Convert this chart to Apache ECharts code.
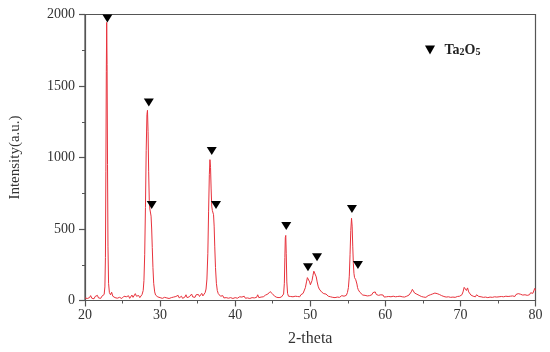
<!DOCTYPE html>
<html><head><meta charset="utf-8">
<script src="https://cdn.jsdelivr.net/npm/echarts@6/dist/echarts.min.js"></script>
<style>html,body{margin:0;padding:0;background:#fff}#c{width:550px;height:352px}</style>
</head><body><div id="c"></div>
<script>
const xTicks = [20, 30, 40, 50, 60, 70, 80];
const yTicks = [0, 500, 1000, 1500, 2000];
const xName = '2-theta';
const yName = 'Intensity(a.u.)';
const phaseName = 'Ta2O5';
// [2-theta, intensity]
const pattern = [
[20.0,18],[20.15,30],[20.3,14],[20.45,26],[20.6,20],[20.75,34],[20.9,16],[21.05,24],[21.2,12],[21.35,28],[21.5,22],[21.65,36],[21.8,18],[21.95,26],[22.1,15],[22.25,30],[22.4,24],[22.55,42],[22.65,95],[22.72,300],[22.78,900],[22.84,1600],[22.89,1945],[22.94,1650],[23.0,950],[23.06,380],[23.14,120],[23.25,55],[23.4,40],[23.55,58],[23.7,30],[23.85,36],[24.0,20],[24.15,32],[24.3,16],[24.45,28],[24.6,22],[24.75,34],[24.9,14],[25.05,25],[25.2,30],[25.35,18],[25.5,26],[25.65,20],[25.8,33],[25.95,15],[26.1,24],[26.25,38],[26.4,22],[26.55,28],[26.7,48],[26.85,30],[27.0,24],[27.15,35],[27.3,20],[27.45,30],[27.6,42],[27.75,70],[27.85,140],[27.95,320],[28.05,650],[28.15,1050],[28.25,1300],[28.32,1330],[28.4,1180],[28.48,900],[28.56,700],[28.64,640],[28.72,630],[28.8,590],[28.88,500],[28.96,370],[29.05,230],[29.15,120],[29.28,60],[29.4,38],[29.55,48],[29.7,25],[29.85,34],[30.0,20],[30.15,30],[30.3,15],[30.45,26],[30.6,22],[30.75,35],[30.9,18],[31.05,28],[31.2,14],[31.35,26],[31.5,20],[31.65,32],[31.8,24],[31.95,16],[32.1,28],[32.25,22],[32.4,36],[32.55,18],[32.7,26],[32.85,30],[33.0,15],[33.15,28],[33.3,24],[33.45,40],[33.6,20],[33.75,30],[33.9,26],[34.05,38],[34.2,45],[34.35,25],[34.5,32],[34.65,22],[34.8,40],[34.95,30],[35.1,42],[35.25,28],[35.4,36],[35.55,50],[35.7,32],[35.85,44],[36.0,55],[36.12,80],[36.24,150],[36.36,330],[36.46,620],[36.56,880],[36.64,985],[36.72,930],[36.8,780],[36.88,660],[36.96,630],[37.04,620],[37.12,600],[37.2,520],[37.28,380],[37.38,230],[37.5,120],[37.62,70],[37.75,48],[37.9,36],[38.05,30],[38.2,22],[38.35,34],[38.5,18],[38.65,26],[38.8,20],[38.95,30],[39.1,16],[39.25,24],[39.4,20],[39.55,28],[39.7,14],[39.85,24],[40.0,20],[40.15,30],[40.3,16],[40.45,22],[40.6,26],[40.75,15],[40.9,24],[41.05,20],[41.2,30],[41.35,16],[41.5,22],[41.65,18],[41.8,28],[41.95,14],[42.1,24],[42.25,20],[42.4,32],[42.55,18],[42.7,26],[42.85,22],[43.0,40],[43.15,20],[43.3,28],[43.45,24],[43.6,34],[43.75,26],[43.9,30],[44.05,38],[44.2,32],[44.35,45],[44.5,55],[44.65,62],[44.8,58],[44.95,48],[45.1,40],[45.25,30],[45.4,34],[45.55,22],[45.7,30],[45.85,20],[46.0,28],[46.15,24],[46.3,32],[46.45,45],[46.55,120],[46.62,300],[46.68,440],[46.74,455],[46.8,330],[46.88,130],[46.98,50],[47.1,30],[47.25,22],[47.4,28],[47.55,18],[47.7,26],[47.85,22],[48.0,30],[48.15,20],[48.3,28],[48.45,34],[48.6,26],[48.75,40],[48.9,36],[49.05,50],[49.2,62],[49.35,90],[49.5,130],[49.62,160],[49.72,172],[49.82,160],[49.92,130],[50.02,110],[50.12,112],[50.24,140],[50.36,175],[50.48,205],[50.58,213],[50.68,200],[50.8,165],[50.92,130],[51.05,100],[51.2,80],[51.35,70],[51.5,60],[51.65,52],[51.8,48],[51.95,40],[52.1,45],[52.25,34],[52.4,30],[52.55,38],[52.7,26],[52.85,30],[53.0,22],[53.15,28],[53.3,20],[53.45,26],[53.6,24],[53.75,30],[53.9,22],[54.05,28],[54.2,34],[54.35,26],[54.5,30],[54.65,40],[54.8,36],[54.95,55],[55.08,90],[55.2,170],[55.3,320],[55.4,490],[55.5,575],[55.58,520],[55.66,380],[55.74,260],[55.82,190],[55.9,160],[55.98,150],[56.06,145],[56.14,138],[56.22,115],[56.3,90],[56.4,75],[56.5,66],[56.6,58],[56.72,45],[56.85,50],[57.0,38],[57.15,30],[57.3,36],[57.45,26],[57.6,32],[57.75,22],[57.9,34],[58.05,28],[58.2,40],[58.35,55],[58.5,48],[58.65,60],[58.8,42],[58.95,50],[59.1,36],[59.25,48],[59.4,40],[59.55,30],[59.7,38],[59.85,24],[60.0,32],[60.15,26],[60.3,20],[60.45,28],[60.6,18],[60.75,26],[60.9,20],[61.05,30],[61.2,22],[61.35,26],[61.5,18],[61.65,28],[61.8,22],[61.95,30],[62.1,20],[62.25,26],[62.4,32],[62.55,24],[62.7,36],[62.85,30],[63.0,26],[63.15,38],[63.3,44],[63.45,60],[63.6,78],[63.75,70],[63.9,52],[64.05,60],[64.2,44],[64.35,50],[64.5,36],[64.65,40],[64.8,28],[64.95,34],[65.1,24],[65.25,30],[65.4,22],[65.55,28],[65.7,34],[65.85,30],[66.0,40],[66.15,36],[66.3,46],[66.45,40],[66.6,52],[66.75,44],[66.9,48],[67.05,36],[67.2,42],[67.35,30],[67.5,34],[67.65,24],[67.8,28],[67.95,20],[68.1,24],[68.25,18],[68.4,26],[68.55,16],[68.7,22],[68.85,18],[69.0,24],[69.15,16],[69.3,22],[69.45,20],[69.6,28],[69.75,22],[69.9,30],[70.05,26],[70.2,40],[70.35,60],[70.5,92],[70.65,80],[70.8,70],[70.95,88],[71.1,60],[71.25,52],[71.4,38],[71.55,42],[71.7,30],[71.85,36],[72.0,26],[72.15,40],[72.3,32],[72.45,28],[72.6,36],[72.75,26],[72.9,30],[73.05,22],[73.2,28],[73.35,24],[73.5,32],[73.65,20],[73.8,28],[73.95,24],[74.1,30],[74.25,22],[74.4,34],[74.55,26],[74.7,30],[74.85,24],[75.0,32],[75.15,26],[75.3,34],[75.45,28],[75.6,36],[75.75,26],[75.9,38],[76.05,30],[76.2,34],[76.35,28],[76.5,36],[76.65,30],[76.8,40],[76.95,32],[77.1,36],[77.25,28],[77.4,42],[77.55,34],[77.7,48],[77.85,36],[78.0,44],[78.15,52],[78.3,38],[78.45,46],[78.6,40],[78.75,50],[78.9,36],[79.05,48],[79.2,40],[79.35,54],[79.5,42],[79.65,50],[79.8,60],[79.9,85],[80.0,70]
];
// peak markers (2-theta, intensity at marker)
const markers = [[22.98,1972],[28.5,1385],[28.88,668],[36.88,1045],[37.45,668],[46.8,521],[49.7,232],[50.9,302],[55.55,640],[56.35,248]];

const serif = "'Liberation Serif','Times New Roman',serif";
const axisCol = '#555';
const chart = echarts.init(document.getElementById('c'), null, {renderer: 'canvas'});
chart.setOption({
  animation: false,
  backgroundColor: '#fff',
  grid: {left: 84, right: 14.5, top: 14.5, bottom: 51.5, show: true, borderColor: axisCol, borderWidth: 1.2, backgroundColor: 'transparent'},
  legend: {
    data: [{name: phaseName, icon: 'path://M0,0 L10,0 L5,9 Z', itemStyle: {color: '#000', opacity: 1}}],
    left: 420, top: 38, itemWidth: 11, itemHeight: 9, itemGap: 6,
    formatter: function () { return '{b|Ta}{s|2}{b|O}{s|5}'; },
    textStyle: {
      padding: [0, 0, 0, 4],
      rich: {
        b: {fontFamily: serif, fontWeight: 'bold', fontSize: 14, color: '#222'},
        s: {fontFamily: serif, fontWeight: 'bold', fontSize: 10, color: '#222', padding: [5, 0, 0, 0]}
      }
    }
  },
  xAxis: {
    type: 'value', min: xTicks[0], max: xTicks[xTicks.length - 1], interval: 10,
    name: xName, nameLocation: 'middle', nameGap: 30,
    nameTextStyle: {fontFamily: serif, fontSize: 16, color: '#333'},
    axisLine: {show: true, onZero: false, lineStyle: {color: axisCol, width: 1.2}},
    axisTick: {show: true, inside: false, length: 6, lineStyle: {color: axisCol, width: 1.2}},
    minorTick: {show: true, splitNumber: 2, length: 3, lineStyle: {color: axisCol, width: 1}},
    axisLabel: {fontFamily: serif, fontSize: 14, color: '#333', margin: 8, formatter: function (v) { return String(v); }},
    splitLine: {show: false}
  },
  yAxis: {
    type: 'value', min: yTicks[0], max: yTicks[yTicks.length - 1], interval: 500,
    name: yName, nameLocation: 'middle', nameGap: 62,
    nameTextStyle: {fontFamily: serif, fontSize: 15, color: '#333'},
    axisLine: {show: true, lineStyle: {color: axisCol, width: 1.2}},
    axisTick: {show: true, inside: false, length: 6, lineStyle: {color: axisCol, width: 1.2}},
    minorTick: {show: true, splitNumber: 2, length: 3, lineStyle: {color: axisCol, width: 1}},
    axisLabel: {fontFamily: serif, fontSize: 14, color: '#333', margin: 10, formatter: function (v) { return String(v); }},
    splitLine: {show: false}
  },
  series: [
    {type: 'line', name: 'pattern', data: pattern, showSymbol: false, symbol: 'none',
     lineStyle: {color: '#e8323c', width: 1}, z: 2},
    {type: 'scatter', name: phaseName, data: markers, symbol: 'triangle', symbolRotate: 180,
     symbolSize: [10, 8], itemStyle: {color: '#000', opacity: 1}, z: 3}
  ]
});
</script></body></html>
